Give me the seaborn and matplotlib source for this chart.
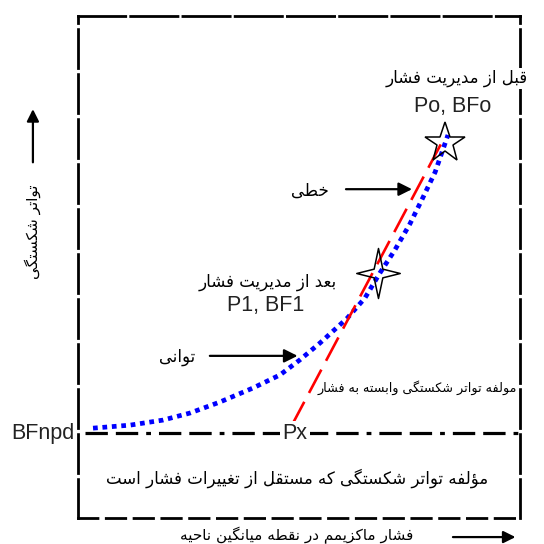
import matplotlib
matplotlib.use("Agg")
import matplotlib.pyplot as plt
from matplotlib.path import Path
import seaborn as sns

# ---- data (pressure on x, break frequency on y, both on a 0-100 scale) ----
power_x = [3.4, 11.8, 19.2, 25.3, 32.1, 39.6, 45.7, 50.2, 54.8, 60.9, 64.9,
           68.3, 71.7, 75.1, 77.8, 80.8, 83.7]
power_y = [17.9, 18.5, 19.5, 20.9, 23.1, 25.9, 28.5, 31.5, 34.9, 39.8, 43.8,
           48.8, 53.4, 58.6, 63.4, 68.9, 76.3]
linear_x = [48.4, 82.6]
linear_y = [18.5, 75.3]
bf_npd = 16.9
before_pt = (83.0, 74.7)   # Po, BFo
after_pt = (67.9, 48.8)    # P1, BF1

# ---- minimal Persian shaping (presentation forms + visual order) ----
FORMS = {
    '\u0622': (0xFE81, 0xFE82, None, None),
    '\u0624': (0xFE85, 0xFE86, None, None),
    '\u0626': (0xFE89, 0xFE8A, 0xFE8B, 0xFE8C),
    '\u0627': (0xFE8D, 0xFE8E, None, None),
    '\u0628': (0xFE8F, 0xFE90, 0xFE91, 0xFE92),
    '\u0629': (0xFE93, 0xFE94, None, None),
    '\u062A': (0xFE95, 0xFE96, 0xFE97, 0xFE98),
    '\u062B': (0xFE99, 0xFE9A, 0xFE9B, 0xFE9C),
    '\u062C': (0xFE9D, 0xFE9E, 0xFE9F, 0xFEA0),
    '\u062D': (0xFEA1, 0xFEA2, 0xFEA3, 0xFEA4),
    '\u062E': (0xFEA5, 0xFEA6, 0xFEA7, 0xFEA8),
    '\u062F': (0xFEA9, 0xFEAA, None, None),
    '\u0630': (0xFEAB, 0xFEAC, None, None),
    '\u0631': (0xFEAD, 0xFEAE, None, None),
    '\u0632': (0xFEAF, 0xFEB0, None, None),
    '\u0633': (0xFEB1, 0xFEB2, 0xFEB3, 0xFEB4),
    '\u0634': (0xFEB5, 0xFEB6, 0xFEB7, 0xFEB8),
    '\u0635': (0xFEB9, 0xFEBA, 0xFEBB, 0xFEBC),
    '\u0636': (0xFEBD, 0xFEBE, 0xFEBF, 0xFEC0),
    '\u0637': (0xFEC1, 0xFEC2, 0xFEC3, 0xFEC4),
    '\u0638': (0xFEC5, 0xFEC6, 0xFEC7, 0xFEC8),
    '\u0639': (0xFEC9, 0xFECA, 0xFECB, 0xFECC),
    '\u063A': (0xFECD, 0xFECE, 0xFECF, 0xFED0),
    '\u0641': (0xFED1, 0xFED2, 0xFED3, 0xFED4),
    '\u0642': (0xFED5, 0xFED6, 0xFED7, 0xFED8),
    '\u0643': (0xFED9, 0xFEDA, 0xFEDB, 0xFEDC),
    '\u0644': (0xFEDD, 0xFEDE, 0xFEDF, 0xFEE0),
    '\u0645': (0xFEE1, 0xFEE2, 0xFEE3, 0xFEE4),
    '\u0646': (0xFEE5, 0xFEE6, 0xFEE7, 0xFEE8),
    '\u0647': (0xFEE9, 0xFEEA, 0xFEEB, 0xFEEC),
    '\u0648': (0xFEED, 0xFEEE, None, None),
    '\u0649': (0xFEEF, 0xFEF0, None, None),
    '\u064A': (0xFEF1, 0xFEF2, 0xFEF3, 0xFEF4),
    '\u067E': (0xFB56, 0xFB57, 0xFB58, 0xFB59),
    '\u0686': (0xFB7A, 0xFB7B, 0xFB7C, 0xFB7D),
    '\u0698': (0xFB8A, 0xFB8B, None, None),
    '\u06A9': (0xFB8E, 0xFB8F, 0xFB90, 0xFB91),
    '\u06AF': (0xFB92, 0xFB93, 0xFB94, 0xFB95),
    '\u06CC': (0xFBFC, 0xFBFD, 0xFBFE, 0xFBFF),
}


def fa(text):
    out = []
    n = len(text)
    for i, ch in enumerate(text):
        if ch not in FORMS:
            out.append(ch)
            continue
        iso, fin, ini, med = FORMS[ch]
        prev = text[i - 1] if i > 0 else ''
        nxt = text[i + 1] if i + 1 < n else ''
        joins_prev = prev in FORMS and FORMS[prev][2] is not None
        joins_next = nxt in FORMS and ini is not None
        if joins_prev and joins_next:
            code = med
        elif joins_prev:
            code = fin
        elif joins_next:
            code = ini
        else:
            code = iso
        out.append(chr(code))
    return ''.join(out)[::-1]


sns.set_theme(style="white")
plt.rcParams['font.family'] = ['DejaVu Sans']

fig = plt.figure(figsize=(5.44, 5.44), dpi=100)
ax = fig.add_axes([78 / 544, 26 / 544, 442 / 544, 502 / 544])
ax.set_xlim(0, 100)
ax.set_ylim(0, 100)
ax.set_xticks([])
ax.set_yticks([])

# dashed frame
for side, pat in [('left', (0, (14, 2.2))), ('right', (0, (14, 2.2))),
                  ('top', (0, (17, 1.8))), ('bottom', (0, (7, 3)))]:
    sp = ax.spines[side]
    sp.set_visible(True)
    sp.set_color('black')
    sp.set_linewidth(2)
    sp.set_linestyle(pat)

# pressure-independent baseline
ax.plot([1.6, 100], [bf_npd, bf_npd], color='black', lw=2.3,
        linestyle=(0, (7, 2.5, 7, 2.5, 1.5, 2.5)), zorder=2)

# power-law and linear relations
sns.lineplot(x=power_x, y=power_y, ax=ax, color='#0000ff', lw=3.4,
             linestyle=(0, (1, 1)), sort=False, zorder=3)
sns.lineplot(x=linear_x, y=linear_y, ax=ax, color='#ff0000', lw=1.9,
             linestyle=(0, (10, 3.8)), sort=False, zorder=4)

# markers for the two states
ax.plot(*before_pt, marker='*', markersize=30, mfc='none', mec='black',
        mew=1.1, zorder=5)
sparkle = Path([(0, 1.15), (0.2, 0.2), (1, 0), (0.2, -0.2), (0, -1.15),
                (-0.2, -0.2), (-1, 0), (-0.2, 0.2), (0, 1.15)],
               [Path.MOVETO] + [Path.LINETO] * 7 + [Path.CLOSEPOLY])
ax.plot(*after_pt, marker=sparkle, markersize=36, mfc='none', mec='black',
        mew=1.1, zorder=5)

fa_kw = dict(fontsize=12, color='black', ha='center', va='center')
lat_kw = dict(fontsize=15.5, color='#222222', ha='center', va='center',
              family='Liberation Sans')

ax.text(85.7, 87.6, fa('قبل از مدیریت فشار'), clip_on=False,
        bbox=dict(facecolor='white', edgecolor='none', pad=1), zorder=6,
        **fa_kw)
ax.text(84.8, 81.9, 'Po, BFo', **lat_kw)
ax.text(43.0, 47.0, fa('بعد از مدیریت فشار'), **fa_kw)
ax.text(42.5, 42.4, 'P1, BF1', **lat_kw)

ax.annotate('', xy=(76.2, 65.5), xytext=(60.0, 65.5),
            arrowprops=dict(arrowstyle='-|>', color='black', lw=1.6,
                            mutation_scale=20))
ax.text(52.5, 65.3, fa('خطی'), **fa_kw)

ax.annotate('', xy=(50.3, 32.3), xytext=(29.2, 32.3),
            arrowprops=dict(arrowstyle='-|>', color='black', lw=1.6,
                            mutation_scale=20))
ax.text(22.4, 32.1, fa('توانی'), **fa_kw)

ax.text(99.3, 25.9, fa('مولفه تواتر شکستگی وابسته به فشار'),
        fontsize=9.2, color='black', ha='right', va='center')
ax.text(49.5, 8.0, fa('مؤلفه تواتر شکستگی که مستقل از تغییرات فشار است'),
        fontsize=12, color='black', ha='center', va='center')

ax.text(-0.7, bf_npd, 'BFnpd', fontsize=15.5, color='#222222', ha='right',
        va='center', family='Liberation Sans', clip_on=False)
ax.text(49.1, bf_npd, 'Px', fontsize=15.5, color='#222222', ha='center',
        va='center', family='Liberation Sans',
        bbox=dict(facecolor='white', edgecolor='none', pad=1.5), zorder=6)

# axis titles with direction arrows
ax.text(49.5, -3.4, fa('فشار ماکزیمم در نقطه میانگین ناحیه'), fontsize=11,
        color='black', ha='center', va='center', clip_on=False)
ax.annotate('', xy=(99.6, -3.8), xytext=(84.2, -3.8),
            arrowprops=dict(arrowstyle='-|>', color='black', lw=1.6,
                            mutation_scale=18), annotation_clip=False)
ax.text(-10.2, 57.0, fa('تواتر شکستگی'), fontsize=11, rotation=90,
        color='black', ha='center', va='center', clip_on=False)
ax.annotate('', xy=(-10.2, 82.0), xytext=(-10.2, 70.3),
            arrowprops=dict(arrowstyle='-|>', color='black', lw=1.6,
                            mutation_scale=18), annotation_clip=False)

fig.savefig('out.png', dpi=100, facecolor='white')
